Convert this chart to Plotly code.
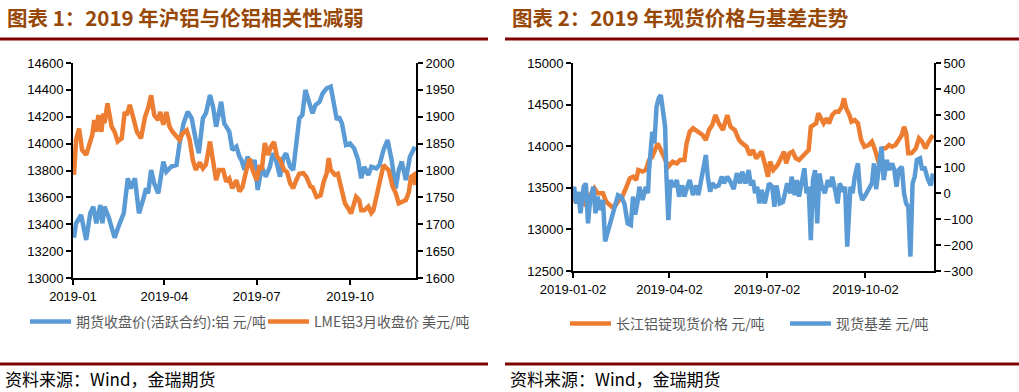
import plotly.graph_objects as go

# ---------------- Chart 1 data ----------------
shfe_dates = ["2019-01-02","2019-01-04","2019-01-09","2019-01-14","2019-01-18","2019-01-21","2019-01-24","2019-01-28",
              "2019-01-30","2019-02-01","2019-02-05","2019-02-11","2019-02-16","2019-02-20","2019-02-24","2019-02-27",
              "2019-03-03","2019-03-07","2019-03-11","2019-03-14","2019-03-16","2019-03-19","2019-03-22","2019-03-26",
              "2019-03-31","2019-04-03","2019-04-08","2019-04-13","2019-04-16","2019-04-20","2019-04-24","2019-04-28",
              "2019-05-02","2019-05-05","2019-05-09","2019-05-12","2019-05-16","2019-05-19","2019-05-22","2019-05-27",
              "2019-05-30","2019-06-04","2019-06-07","2019-06-11","2019-06-14","2019-06-16","2019-06-19","2019-06-22",
              "2019-06-26","2019-06-29","2019-07-02","2019-07-06","2019-07-10","2019-07-14","2019-07-17","2019-07-20",
              "2019-07-24","2019-07-27","2019-07-30","2019-08-03","2019-08-06","2019-08-09","2019-08-12","2019-08-15",
              "2019-08-18","2019-08-22","2019-08-25","2019-08-28","2019-09-01","2019-09-04","2019-09-08","2019-09-12",
              "2019-09-14","2019-09-18","2019-09-20","2019-09-23","2019-09-27","2019-10-01","2019-10-05","2019-10-09",
              "2019-10-12","2019-10-15","2019-10-19","2019-10-22","2019-10-27","2019-10-30","2019-11-03","2019-11-07",
              "2019-11-11","2019-11-15","2019-11-18","2019-11-21","2019-11-25","2019-11-29","2019-12-04"]
shfe_close = [13300,13407,13469,13283,13482,13531,13407,13543,
              13407,13531,13456,13300,13407,13482,13742,13667,
              13742,13482,13580,13667,13630,13804,13705,13630,
              13866,13791,13830,13841,14002,14151,14238,14188,
              14027,13928,14188,14226,14362,14275,14126,14312,
              14151,14089,13953,13978,13903,13878,13804,13903,
              13828,13878,13655,13828,13754,13828,13928,13878,
              13754,13891,13928,13828,13804,13977,14188,14213,
              14399,14300,14226,14287,14312,14374,14412,14424,
              14349,14176,14200,14151,13990,14002,13965,13878,
              13742,13828,13767,13828,13816,13841,13953,14027,
              13878,13667,13804,13866,13729,13903,13977]

lme_dates = ["2019-01-02","2019-01-04","2019-01-07","2019-01-10","2019-01-14","2019-01-17","2019-01-20","2019-01-22",
             "2019-01-24","2019-01-26","2019-01-29","2019-01-31","2019-02-01","2019-02-04","2019-02-08","2019-02-11",
             "2019-02-14","2019-02-18","2019-02-21","2019-02-23","2019-02-26","2019-03-02","2019-03-05","2019-03-09",
             "2019-03-13","2019-03-16","2019-03-19","2019-03-22","2019-03-26","2019-03-28","2019-03-31","2019-04-03",
             "2019-04-06","2019-04-09","2019-04-13","2019-04-16","2019-04-19","2019-04-23","2019-04-26","2019-04-29",
             "2019-05-02","2019-05-06","2019-05-09","2019-05-12","2019-05-16","2019-05-18","2019-05-22","2019-05-25",
             "2019-05-29","2019-06-01","2019-06-04","2019-06-07","2019-06-11","2019-06-14","2019-06-17","2019-06-20",
             "2019-06-24","2019-06-27","2019-07-01","2019-07-04","2019-07-06","2019-07-09","2019-07-12","2019-07-15",
             "2019-07-18","2019-07-21","2019-07-24","2019-07-28","2019-07-31","2019-08-03","2019-08-06","2019-08-09",
             "2019-08-12","2019-08-16","2019-08-19","2019-08-23","2019-08-25","2019-08-29","2019-09-02","2019-09-05",
             "2019-09-08","2019-09-10","2019-09-12","2019-09-16","2019-09-19","2019-09-22","2019-09-26","2019-09-29",
             "2019-10-02","2019-10-05","2019-10-07","2019-10-10","2019-10-12","2019-10-15","2019-10-19","2019-10-22",
             "2019-10-24","2019-10-27","2019-10-29","2019-11-01","2019-11-03","2019-11-06","2019-11-08","2019-11-12",
             "2019-11-15","2019-11-18","2019-11-21","2019-11-25","2019-11-28","2019-11-30","2019-12-03","2019-12-04"]
lme_close = [1792,1857,1878,1838,1829,1851,1866,1894,
             1872,1903,1872,1906,1888,1925,1882,1872,
             1854,1860,1909,1903,1922,1894,1872,1860,
             1900,1916,1940,1903,1894,1909,1885,1909,
             1882,1872,1863,1857,1869,1875,1857,1820,
             1801,1815,1804,1811,1854,1826,1782,1801,
             1801,1779,1785,1767,1782,1761,1769,1794,
             1822,1801,1782,1810,1801,1851,1829,1844,
             1853,1826,1820,1801,1797,1776,1767,1782,
             1794,1795,1788,1770,1769,1751,1754,1779,
             1795,1823,1801,1792,1794,1770,1739,1730,
             1720,1739,1751,1745,1726,1726,1733,1721,
             1726,1751,1770,1801,1810,1804,1801,1770,
             1758,1739,1742,1745,1760,1788,1792,1773]

# ---------------- Chart 2 data ----------------
spot_dates = ["2019-01-02","2019-01-05","2019-01-10","2019-01-14","2019-01-18","2019-01-22","2019-01-25","2019-01-30",
              "2019-02-02","2019-02-07","2019-02-11","2019-02-14","2019-02-17","2019-02-21","2019-02-24","2019-02-27",
              "2019-03-02","2019-03-04","2019-03-08","2019-03-11","2019-03-14","2019-03-17","2019-03-20","2019-03-22",
              "2019-03-25","2019-03-28","2019-04-01","2019-04-05","2019-04-09","2019-04-12","2019-04-16","2019-04-18",
              "2019-04-21","2019-04-24","2019-04-28","2019-05-03","2019-05-06","2019-05-09","2019-05-12","2019-05-15",
              "2019-05-18","2019-05-22","2019-05-26","2019-05-29","2019-06-02","2019-06-06","2019-06-09","2019-06-13",
              "2019-06-16","2019-06-19","2019-06-22","2019-06-27","2019-06-30","2019-07-03","2019-07-05","2019-07-08",
              "2019-07-12","2019-07-15","2019-07-18","2019-07-20","2019-07-23","2019-07-26","2019-07-29","2019-08-01",
              "2019-08-04","2019-08-08","2019-08-10","2019-08-12","2019-08-15","2019-08-17","2019-08-19","2019-08-21",
              "2019-08-24","2019-08-27","2019-08-29","2019-09-01","2019-09-04","2019-09-07","2019-09-10","2019-09-12",
              "2019-09-14","2019-09-17","2019-09-19","2019-09-22","2019-09-25","2019-09-28","2019-10-01","2019-10-05",
              "2019-10-08","2019-10-11","2019-10-13","2019-10-15","2019-10-16","2019-10-18","2019-10-21","2019-10-24",
              "2019-10-27","2019-10-30","2019-11-02","2019-11-05","2019-11-07","2019-11-09","2019-11-11","2019-11-14",
              "2019-11-18","2019-11-21","2019-11-24","2019-11-27","2019-11-30","2019-12-03","2019-12-04"]
spot_price = [13353,13349,13353,13293,13413,13494,13433,13433,
              13333,13273,13293,13353,13393,13513,13614,13634,
              13594,13714,13694,13714,13834,13874,13994,14034,
              13954,13874,13754,13814,13794,13834,13834,14034,
              14174,14215,14174,14135,14074,14195,14255,14375,
              14275,14195,14375,14234,14195,14074,14034,13994,
              13894,13954,13854,13934,13794,13634,13814,13714,
              13774,13854,13934,13794,13914,13934,13854,13834,
              13874,13934,13954,14234,14255,14275,14395,14335,
              14275,14335,14275,14375,14415,14415,14475,14575,
              14455,14375,14295,14315,14275,14074,13994,14014,
              14054,13954,13874,13774,13894,13974,13974,14014,
              13994,14014,14074,14135,14234,14155,13914,13914,
              13974,14094,14054,13974,14054,14114,14135]

basis_dates = ["2019-01-02","2019-01-03","2019-01-05","2019-01-07","2019-01-09","2019-01-12","2019-01-14","2019-01-16",
               "2019-01-18","2019-01-21","2019-01-23","2019-01-25","2019-01-27","2019-01-30","2019-02-01","2019-02-13",
               "2019-02-16","2019-02-19","2019-02-22","2019-02-25","2019-02-27","2019-03-01","2019-03-03","2019-03-05",
               "2019-03-08","2019-03-11","2019-03-13","2019-03-14","2019-03-17","2019-03-19","2019-03-21","2019-03-23",
               "2019-03-25","2019-03-27","2019-03-29","2019-03-30","2019-04-01","2019-04-03","2019-04-06","2019-04-09",
               "2019-04-11","2019-04-14","2019-04-16","2019-04-18","2019-04-21","2019-04-24","2019-04-27","2019-04-29",
               "2019-05-02","2019-05-05","2019-05-06","2019-05-08","2019-05-10","2019-05-12","2019-05-15","2019-05-18",
               "2019-05-21","2019-05-23","2019-05-26","2019-05-29","2019-06-01","2019-06-04","2019-06-07","2019-06-09",
               "2019-06-12","2019-06-15","2019-06-17","2019-06-19","2019-06-21","2019-06-23","2019-06-25","2019-06-27",
               "2019-06-30","2019-07-02","2019-07-04","2019-07-07","2019-07-09","2019-07-11","2019-07-14","2019-07-17",
               "2019-07-19","2019-07-21","2019-07-24","2019-07-25","2019-07-28","2019-07-30","2019-08-01","2019-08-03",
               "2019-08-06","2019-08-08","2019-08-10","2019-08-12","2019-08-14","2019-08-16","2019-08-18","2019-08-20",
               "2019-08-22","2019-08-25","2019-08-28","2019-08-30","2019-09-01","2019-09-04","2019-09-06","2019-09-08",
               "2019-09-11","2019-09-13","2019-09-15","2019-09-18","2019-09-20","2019-09-22","2019-09-25","2019-09-27",
               "2019-09-29","2019-10-02","2019-10-05","2019-10-08","2019-10-10","2019-10-12","2019-10-15","2019-10-17",
               "2019-10-19","2019-10-22","2019-10-24","2019-10-27","2019-10-29","2019-10-31","2019-11-02","2019-11-05",
               "2019-11-07","2019-11-09","2019-11-11","2019-11-13","2019-11-15","2019-11-17","2019-11-19","2019-11-22",
               "2019-11-24","2019-11-26","2019-11-29","2019-12-02","2019-12-04"]
basis_value = [-27,24,-41,5,-78,24,37,-117,
               -27,24,-78,-14,-65,-27,-186,-8,
               -14,-41,-117,-123,-14,-83,-41,24,
               -27,24,-1,88,236,191,332,364,
               377,306,255,88,-104,50,24,50,
               -14,29,-14,15,50,-8,29,-8,
               69,127,146,56,5,37,24,29,
               63,37,63,43,15,76,37,82,
               37,88,29,50,-1,24,-40,12,
               -40,-1,37,24,-53,29,-40,-34,
               12,37,-1,63,-8,50,-14,24,
               95,-1,24,-181,50,88,-117,75,
               29,-1,50,24,63,5,-40,37,
               5,24,-206,24,-1,63,114,5,
               -27,-8,15,37,114,15,114,178,
               50,127,88,114,88,24,88,101,
               -1,-40,-53,-245,37,63,127,133,
               88,101,56,29,75]

# ---------------- labels ----------------
title1 = "图表 1：2019 年沪铝与伦铝相关性减弱"
title2 = "图表 2：2019 年现货价格与基差走势"
name_shfe = "期货收盘价(活跃合约):铝 元/吨"
name_lme = "LME铝3月收盘价 美元/吨"
name_spot = "长江铝锭现货价格 元/吨"
name_basis = "现货基差 元/吨"
source_text = "资料来源：Wind，金瑞期货"

BLUE = "#5B9BD5"
ORANGE = "#ED7D31"
W, H = 1019, 392
LW = 4.5

def px(x):
    return x / W

def py(y):
    return (H - y) / H

fig = go.Figure()
fig.add_trace(go.Scatter(x=shfe_dates, y=shfe_close, name=name_shfe, mode="lines",
                         line=dict(color=BLUE, width=LW), xaxis="x", yaxis="y", legend="legend"))
fig.add_trace(go.Scatter(x=lme_dates, y=lme_close, name=name_lme, mode="lines",
                         line=dict(color=ORANGE, width=LW), xaxis="x", yaxis="y2", legend="legend"))
fig.add_trace(go.Scatter(x=spot_dates, y=spot_price, name=name_spot, mode="lines",
                         line=dict(color=ORANGE, width=LW), xaxis="x2", yaxis="y3", legend="legend2"))
fig.add_trace(go.Scatter(x=basis_dates, y=basis_value, name=name_basis, mode="lines",
                         line=dict(color=BLUE, width=LW), xaxis="x2", yaxis="y4", legend="legend2"))

tickfont = dict(family="Liberation Sans, Arial", size=13, color="#000000")
axstyle = dict(showline=True, linecolor="#000000", linewidth=2, ticks="outside", ticklen=5,
               tickwidth=2, tickcolor="#000000", showgrid=False, zeroline=False, tickfont=tickfont,
               automargin=False)

yd1 = [py(278), py(63)]
yd2 = [py(271), py(63)]

legfont = dict(family="Noto Sans CJK SC", size=14, color="#595959")

fig.update_layout(
    width=W, height=H, autosize=False,
    margin=dict(l=0, r=0, t=0, b=0, pad=0, autoexpand=False),
    paper_bgcolor="white", plot_bgcolor="white",
    xaxis=dict(domain=[px(73), px(416)], anchor="y", type="date",
               range=["2019-01-01", "2019-12-05"], tick0="2019-01-01", dtick="M3",
               tickformat="%Y-%m", **axstyle),
    yaxis=dict(domain=yd1, anchor="x", range=[13000, 14600], dtick=200, tickformat="d", **axstyle),
    yaxis2=dict(overlaying="y", side="right", anchor="x", range=[1600, 2000], dtick=50,
                tickformat="d", **axstyle),
    xaxis2=dict(domain=[px(573), px(934)], anchor="y3", type="date",
                range=["2019-01-02", "2019-12-05"], tick0="2019-01-02", dtick="M3",
                tickformat="%Y-%m-%d", **axstyle),
    yaxis3=dict(domain=yd2, anchor="x2", range=[12500, 15000], dtick=500, tickformat="d", **axstyle),
    yaxis4=dict(overlaying="y3", side="right", anchor="x2", range=[-300, 500], dtick=100,
                tickformat="d", **axstyle),
    legend=dict(orientation="h", x=px(25), y=py(322), xanchor="left", yanchor="middle",
                font=legfont, bgcolor="rgba(0,0,0,0)", itemwidth=41,
                entrywidth=182, entrywidthmode="pixels"),
    legend2=dict(orientation="h", x=px(565), y=py(324), xanchor="left", yanchor="middle",
                 font=legfont, bgcolor="rgba(0,0,0,0)", itemwidth=41,
                 entrywidth=164, entrywidthmode="pixels"),
    showlegend=True,
)

RULE = "#7F0000"
shapes = []
for x0, x1 in [(0, 488), (505, 1019)]:
    shapes.append(dict(type="line", xref="paper", yref="paper", x0=px(x0), x1=px(x1),
                       y0=py(39), y1=py(39), line=dict(color=RULE, width=3)))
    shapes.append(dict(type="line", xref="paper", yref="paper", x0=px(x0), x1=px(x1),
                       y0=py(364), y1=py(364), line=dict(color=RULE, width=3)))
fig.update_layout(shapes=shapes)

annos = []
for txt, x in [(title1, 5), (title2, 510)]:
    annos.append(dict(text="<b>" + txt + "</b>", x=px(x), y=py(17), xref="paper", yref="paper",
                      xanchor="left", yanchor="middle", showarrow=False,
                      font=dict(family="Noto Sans CJK SC", size=20.5, color="#974806")))
for x in [3, 508]:
    annos.append(dict(text=source_text, x=px(x), y=py(378), xref="paper", yref="paper",
                      xanchor="left", yanchor="middle", showarrow=False,
                      font=dict(family="Noto Sans CJK SC", size=17, color="#000000")))
fig.update_layout(annotations=annos)

fig.write_html("out.html", config={"displayModeBar": False},
               post_script="document.body.style.margin='0';document.body.style.overflow='hidden';")
